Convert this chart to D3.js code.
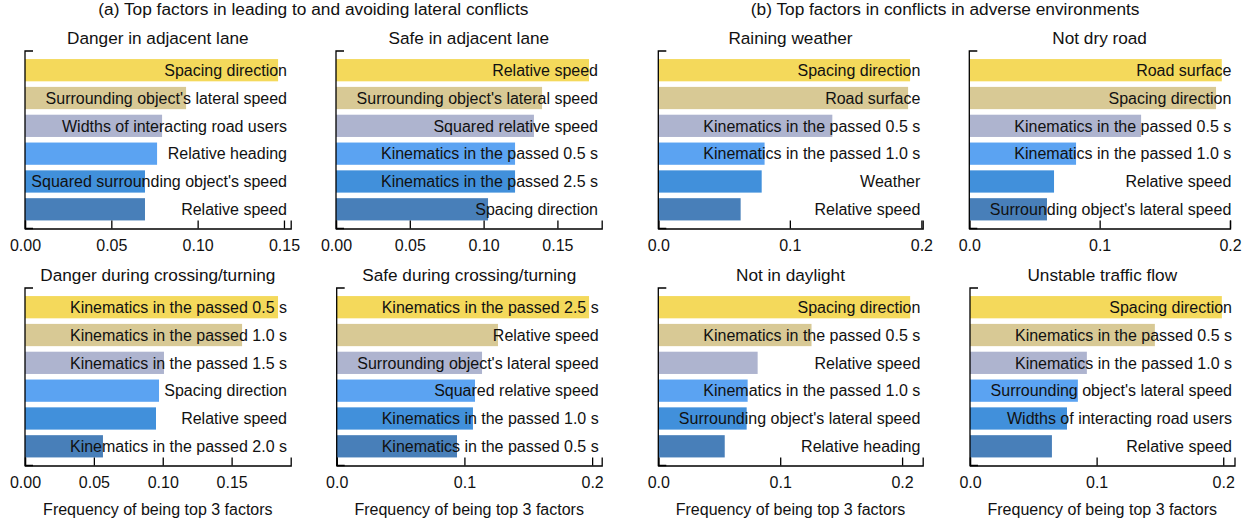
<!DOCTYPE html>
<html>
<head>
<meta charset="utf-8">
<script src="https://cdn.jsdelivr.net/npm/d3@7"></script>
<style>
  body { margin: 0; background: #fff; }
  text { font-family: "Liberation Sans", Arial, sans-serif; fill: #111; }
</style>
</head>
<body>
<div id="d3-container"></div>
<script>
// titles
var groupTitles = ["(a) Top factors in leading to and avoiding lateral conflicts",
                   "(b) Top factors in conflicts in adverse environments"];
var panelTitles = ["Danger in adjacent lane", "Safe in adjacent lane", "Raining weather", "Not dry road",
                   "Danger during crossing/turning", "Safe during crossing/turning", "Not in daylight", "Unstable traffic flow"];
var xLabel = "Frequency of being top 3 factors";

// factors (top bar first) and frequencies, one pair per panel
var dangerAdjLabels = ["Spacing direction", "Surrounding object's lateral speed", "Widths of interacting road users",
                       "Relative heading", "Squared surrounding object's speed", "Relative speed"];
var dangerAdjValues = [0.1466, 0.0933, 0.0794, 0.0765, 0.0695, 0.0695];

var safeAdjLabels = ["Relative speed", "Surrounding object's lateral speed", "Squared relative speed",
                     "Kinematics in the passed 0.5 s", "Kinematics in the passed 2.5 s", "Spacing direction"];
var safeAdjValues = [0.1714, 0.1396, 0.1341, 0.1213, 0.1213, 0.1030];

var rainLabels = ["Spacing direction", "Road surface", "Kinematics in the passed 0.5 s",
                  "Kinematics in the passed 1.0 s", "Weather", "Relative speed"];
var rainValues = [0.1914, 0.1899, 0.1323, 0.0808, 0.0786, 0.0626];

var notDryLabels = ["Road surface", "Spacing direction", "Kinematics in the passed 0.5 s",
                    "Kinematics in the passed 1.0 s", "Relative speed", "Surrounding object's lateral speed"];
var notDryValues = [0.1937, 0.1893, 0.1318, 0.0819, 0.0650, 0.0596];

var dangerCrossLabels = ["Kinematics in the passed 0.5 s", "Kinematics in the passed 1.0 s", "Kinematics in the passed 1.5 s",
                         "Spacing direction", "Relative speed", "Kinematics in the passed 2.0 s"];
var dangerCrossValues = [0.1837, 0.1576, 0.1009, 0.0973, 0.0951, 0.0566];

var safeCrossLabels = ["Kinematics in the passed 2.5 s", "Relative speed", "Surrounding object's lateral speed",
                       "Squared relative speed", "Kinematics in the passed 1.0 s", "Kinematics in the passed 0.5 s"];
var safeCrossValues = [0.1976, 0.1263, 0.1138, 0.1083, 0.1067, 0.0942];

var nightLabels = ["Spacing direction", "Kinematics in the passed 0.5 s", "Relative speed",
                   "Kinematics in the passed 1.0 s", "Surrounding object's lateral speed", "Relative heading"];
var nightValues = [0.2066, 0.1257, 0.0815, 0.0733, 0.0725, 0.0545];

var flowLabels = ["Spacing direction", "Kinematics in the passed 0.5 s", "Kinematics in the passed 1.0 s",
                  "Surrounding object's lateral speed", "Widths of interacting road users", "Relative speed"];
var flowValues = [0.1989, 0.1460, 0.0923, 0.0852, 0.0766, 0.0647];

// tick values and x-axis upper limits per panel
var ticksA = [0, 0.05, 0.10, 0.15];
var ticksB = [0, 0.1, 0.2];
var panelTicks = [ticksA, ticksA, ticksB, ticksB, ticksA, ticksB, ticksB, ticksB];
var tickFormats = [".2f", ".2f", ".1f", ".1f", ".2f", ".1f", ".1f", ".1f"];
var xMax = [0.1539, 0.1800, 0.2010, 0.2000, 0.1929, 0.2075, 0.2169, 0.2089];

var barColors = ["#f4d95b", "#d8c995", "#aeb4cf", "#5ba3f2", "#4190db", "#487fb9"];

var panelLabels = [dangerAdjLabels, safeAdjLabels, rainLabels, notDryLabels,
                   dangerCrossLabels, safeCrossLabels, nightLabels, flowLabels];
var panelValues = [dangerAdjValues, safeAdjValues, rainValues, notDryValues,
                   dangerCrossValues, safeCrossValues, nightValues, flowValues];

// layout
var width = 1254, height = 522;
var colLeft = [[25, 336, 658.3, 969.3], [25, 336.7, 658.3, 970]];
var colWidth = [[265.7, 265.7, 264.4, 260.7], [265.7, 265, 264.4, 264.5]];
var rowTop = [51, 288];
var plotH = 177.5;

var svg = d3.select("#d3-container").append("svg")
    .attr("width", width)
    .attr("height", height);

svg.selectAll(".group-title")
    .data(groupTitles)
    .enter().append("text")
    .attr("class", "group-title")
    .attr("x", function(d, i) { return i == 0 ? (25 + 601.7) / 2 : (658.3 + 1232) / 2; })
    .attr("y", 14.5)
    .style("text-anchor", "middle")
    .style("font-size", "17.3px")
    .text(function(d) { return d; });

for (var p = 0; p < 8; p++) {
    var row = Math.floor(p / 4), col = p % 4;
    var x0 = colLeft[row][col], w = colWidth[row][col], y0 = rowTop[row];

    var x = d3.scaleLinear()
        .domain([0, xMax[p]])
        .range([0, w]);

    var y = d3.scaleBand()
        .domain(panelLabels[p].map(function(d, i) { return i; }))
        .range([0, plotH])
        .paddingInner(0.2)
        .paddingOuter(0.29);

    var g = svg.append("g")
        .attr("transform", "translate(" + x0 + "," + y0 + ")");

    var vals = panelValues[p];
    var labs = panelLabels[p];

    g.selectAll(".bar")
        .data(vals)
        .enter().append("rect")
        .attr("class", "bar")
        .attr("x", x(0))
        .attr("y", function(d, i) { return y(i); })
        .attr("width", function(d) { return x(d) - x(0); })
        .attr("height", y.bandwidth())
        .style("fill", function(d, i) { return barColors[i]; });

    g.selectAll(".lab")
        .data(labs)
        .enter().append("text")
        .attr("class", "lab")
        .attr("x", 262)
        .attr("y", function(d, i) { return y(i) + y.bandwidth() / 2; })
        .attr("dy", ".36em")
        .style("text-anchor", "end")
        .style("font-size", "16px")
        .text(function(d) { return d; });

    // x axis with inward ticks
    var xAxis = d3.axisBottom(x)
        .tickValues(panelTicks[p])
        .tickFormat(d3.format(tickFormats[p]))
        .tickSize(-8)
        .tickSizeOuter(-8)
        .tickPadding(11);

    var ax = g.append("g")
        .attr("transform", "translate(0," + plotH + ")")
        .call(xAxis);
    ax.selectAll("path, line").style("stroke", "#000").style("stroke-width", 1.3);
    ax.selectAll("text")
        .style("font-size", "16px")
        .style("font-family", "'Liberation Sans', Arial, sans-serif")
        .style("fill", "#111");

    // y spine with outer caps only
    g.append("path")
        .attr("d", "M8,0H0V" + plotH + "H8")
        .style("fill", "none")
        .style("stroke", "#000")
        .style("stroke-width", 1.3);

    g.append("text")
        .attr("x", w / 2)
        .attr("y", -7.5)
        .style("text-anchor", "middle")
        .style("font-size", "17.2px")
        .text(panelTitles[p]);

    if (row == 1) {
        g.append("text")
            .attr("x", w / 2)
            .attr("y", 226.5)
            .style("text-anchor", "middle")
            .style("font-size", "16px")
            .text(xLabel);
    }
}
</script>
</body>
</html>
